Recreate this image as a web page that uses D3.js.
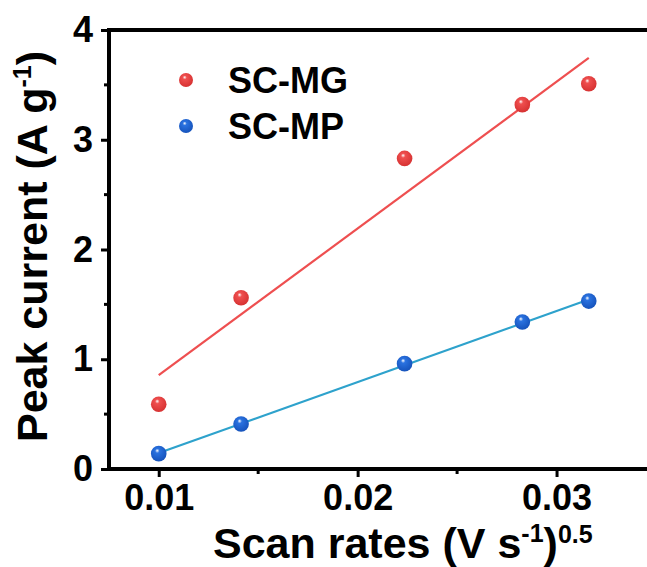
<!DOCTYPE html>
<html>
<head>
<meta charset="utf-8">
<script src="https://cdn.jsdelivr.net/npm/d3@7"></script>
<style>
  body { margin: 0; background: #fff; }
  svg { display: block; font-family: "Liberation Sans", Arial, sans-serif; font-weight: bold; }
</style>
</head>
<body>
<div class="chart"></div>
<script>
//// data

const scanRates = [0.01, 0.01414, 0.02236, 0.02828, 0.03162];
const mgCurrent = [0.59, 1.56, 2.83, 3.32, 3.51];
const mpCurrent = [0.14, 0.41, 0.96, 1.34, 1.53];

// fitted line end points
const fitX = [0.01, 0.03162];
const mgFit = [0.855, 3.745];
const mpFit = [0.145, 1.545];

const seriesNames = ['SC-MG', 'SC-MP'];
const xTicks = [0.01, 0.02, 0.03];
const xMinor = [0.015, 0.025];
const yTicks = [0, 1, 2, 3, 4];
const yMinor = [0.5, 1.5, 2.5, 3.5];

const w = 647, h = 567;
const mLeft = 109, mTop = 30, mBottom = 469, mRight = 656;

const x = d3.scaleLinear().domain([0.0075, 0.035]).range([mLeft, mRight]);
const y = d3.scaleLinear().domain([0, 4]).range([mBottom, mTop]);

const svg = d3.select('.chart').append('svg')
    .attr('width', w)
    .attr('height', h);

// sphere look for the markers
const defs = svg.append('defs');
function ball(id, base, dark){
    const g = defs.append('radialGradient')
        .attr('id', id)
        .attr('cx', '45%').attr('cy', '40%').attr('r', '65%')
        .attr('fx', '40%').attr('fy', '30%');
    g.append('stop').attr('offset', '0%').attr('stop-color', '#ffffff');
    g.append('stop').attr('offset', '22%').attr('stop-color', base);
    g.append('stop').attr('offset', '100%').attr('stop-color', dark);
}
ball('ballRed', '#ef4f4f', '#d42f2f');
ball('ballBlue', '#2a72e0', '#1450b8');

const series = [
    {name: seriesNames[0], values: mgCurrent, fit: mgFit, fill: 'url(#ballRed)', line: '#ee4f50', r: 7.8},
    {name: seriesNames[1], values: mpCurrent, fit: mpFit, fill: 'url(#ballBlue)', line: '#2ea2cc', r: 7.8}
];

// axes
const xAxis = d3.axisBottom(x).tickValues(xTicks).tickSize(8).tickPadding(7)
    .tickFormat(d3.format('.2f'));
const yAxis = d3.axisLeft(y).tickValues(yTicks).tickSize(8).tickPadding(8)
    .tickFormat(d3.format('d'));

const gx = svg.append('g')
    .attr('transform', `translate(0,${mBottom})`)
    .call(xAxis);
const gy = svg.append('g')
    .attr('transform', `translate(${mLeft},0)`)
    .call(yAxis);

[gx, gy].forEach(g => {
    g.select('.domain').remove();
    g.selectAll('.tick line').attr('stroke', '#000').attr('stroke-width', 3);
    g.selectAll('.tick text')
        .attr('fill', '#000')
        .style('font-size', '36px')
        .style('font-family', '"Liberation Sans", Arial, sans-serif')
        .style('font-weight', 'bold');
});

// minor ticks
svg.append('g').selectAll('line')
    .data(xMinor).join('line')
    .attr('x1', d => x(d)).attr('x2', d => x(d))
    .attr('y1', mBottom).attr('y2', mBottom + 5)
    .attr('stroke', '#000').attr('stroke-width', 3);
svg.append('g').selectAll('line')
    .data(yMinor).join('line')
    .attr('x1', mLeft).attr('x2', mLeft - 5)
    .attr('y1', d => y(d)).attr('y2', d => y(d))
    .attr('stroke', '#000').attr('stroke-width', 3);

// frame
svg.append('path')
    .attr('d', `M${mRight},${mTop}H${mLeft}V${mBottom}H${mRight}`)
    .attr('fill', 'none')
    .attr('stroke', '#000')
    .attr('stroke-width', 4)
    .attr('stroke-linecap', 'square');

// fit lines
const line = d3.line()
    .x(d => x(d[0]))
    .y(d => y(d[1]));

series.forEach(s => {
    svg.append('path')
        .datum(fitX.map((v, i) => [v, s.fit[i]]))
        .attr('d', line)
        .attr('fill', 'none')
        .attr('stroke', s.line)
        .attr('stroke-width', 2.2);
});

// points
series.forEach(s => {
    svg.append('g').selectAll('circle')
        .data(scanRates.map((v, i) => [v, s.values[i]]))
        .join('circle')
        .attr('cx', d => x(d[0]))
        .attr('cy', d => y(d[1]))
        .attr('r', s.r)
        .attr('fill', s.fill);
});

// legend
const legend = svg.append('g');
series.forEach((s, i) => {
    const ly = 80 + i * 46;
    legend.append('circle')
        .attr('cx', 186).attr('cy', ly)
        .attr('r', 7)
        .attr('fill', s.fill);
    legend.append('text')
        .attr('x', 228).attr('y', ly + 13)
        .style('font-size', '36px')
        .text(s.name);
});

// axis titles
const xt = svg.append('text')
    .attr('x', 213).attr('y', 558)
    .style('font-size', '43px');
xt.append('tspan').text('Scan rates (V s');
xt.append('tspan').attr('dy', -16).style('font-size', '25px').text('-1');
xt.append('tspan').attr('dy', 16).text(')');
xt.append('tspan').attr('dy', -15).style('font-size', '25px').text('0.5');

const yt = svg.append('text')
    .attr('transform', 'translate(47,442) rotate(-90)')
    .style('font-size', '43px');
yt.append('tspan').text('Peak current (A g');
yt.append('tspan').attr('dy', -16).style('font-size', '25px').text('-1');
yt.append('tspan').attr('dy', 16).text(')');
</script>
</body>
</html>
